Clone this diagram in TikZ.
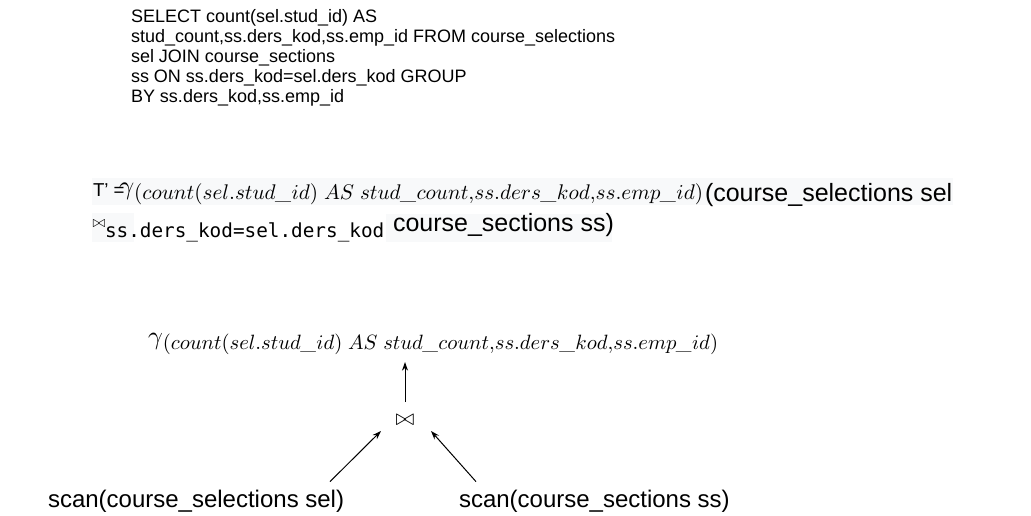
\documentclass[tikz,border=0pt]{standalone}
\usepackage{graphicx}
\usepackage{amsmath}
\usepackage{fontspec}
\setmainfont{Liberation Sans}
\newfontfamily\monof{DejaVu Sans Mono}
\newfontfamily\lmfont{Latin Modern Roman}
\usetikzlibrary{arrows.meta,calc}
\definecolor{bgc}{RGB}{248,249,250}
\newcommand{\mus}{\text{\lmfont\itshape\_}}
\newcommand{\gexpr}{$\gamma$\raisebox{-1.7pt}{\scalebox{0.8}{$(count(sel.stud\mus id)\ AS\ stud\mus count{,}ss.ders\mus kod{,}ss.emp\mus id)$}}}
\begin{document}
\begin{tikzpicture}[x=0.75pt,y=-0.75pt,
  txt/.style={inner sep=0pt,outer sep=0pt,anchor=base west},
  arr/.style={line width=0.75pt,-{Stealth[length=6.5pt,width=4.5pt]}},
  bgbox/.style={fill=bgc,draw=none},
  sqlfont/.style={font=\fontsize{13.5}{15}\selectfont},
  bigfont/.style={font=\fontsize{18.75}{22}\selectfont},
  scanfont/.style={font=\fontsize{18}{22}\selectfont}]
\useasboundingbox (0,0) rectangle (1031,515);
% SQL text
\node[txt,sqlfont,align=left,anchor=north west] (sql) at (131,9)
 {SELECT count(sel.stud\_id) AS\\
  stud\_count,ss.ders\_kod,ss.emp\_id FROM course\_selections\\
  sel JOIN course\_sections\\
  ss ON ss.ders\_kod=sel.ders\_kod GROUP\\
  BY ss.ders\_kod,ss.emp\_id};
% backgrounds
\fill[bgbox] (92,178) rectangle (953,205);
\fill[bgbox] (92,213) rectangle (134,242);
\fill[bgbox] (386,214) rectangle (612,242);
% line 1
\node[txt,font=\fontsize{14}{17}\selectfont] (tp) at (93,196) {T’ =};
\node[txt] (g1) at (119,194.5) {\resizebox{438pt}{!}{\gexpr}};
\node[txt,bigfont] (cs1) at (705,201) {(course\_selections sel};
% line 2
\node[inner sep=0pt,font=\fontsize{12}{14}\selectfont] (bt) at (99,224) {$\bowtie$};
\node[txt,font=\fontsize{14.5}{17}\selectfont\monof] (cond) at (105,237) {ss.ders\_kod=sel.ders\_kod};
\node[txt,bigfont] (cs2) at (393,231) {course\_sections ss)};
% tree
\node[txt] (gam) at (148,344.6) {\resizebox{427.5pt}{!}{\gexpr}};
\node[inner sep=0pt,font=\fontsize{16}{18}\selectfont] (join) at (405,420) {$\bowtie$};
\node[txt,scanfont] (scL) at (48,507) {scan(course\_selections sel)};
\node[txt,scanfont] (scR) at (459,507) {scan(course\_sections ss)};
\draw[arr] ($(join)+(0,-18)$) -- ($(join)+(0,-58)$);
\draw[arr] ($(scL.north west)+(282,-8)$) -- ($(join)+(-24,11)$);
\draw[arr] ($(scR.north west)+(17,-8)$) -- ($(join)+(26,11)$);
\end{tikzpicture}
\end{document}
